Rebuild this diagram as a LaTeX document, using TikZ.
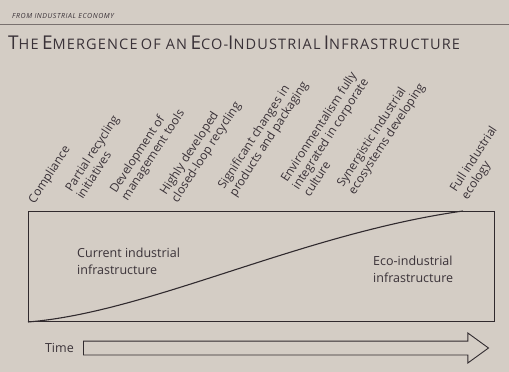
\documentclass[tikz,border=0pt]{standalone}
\usepackage{fontspec}
\setmainfont{Open Sans}
\newfontfamily\headfont[LetterSpace=8]{Open Sans}
\newfontfamily\titlefont[LetterSpace=8]{Open Sans}
\usetikzlibrary{positioning, shapes.arrows}
\definecolor{paper}{RGB}{212,205,197}
\definecolor{ink}{RGB}{48,42,46}
\definecolor{inktext}{RGB}{58,50,56}
\definecolor{rulegray}{RGB}{120,112,110}
\newcommand{\capsc}[2]{{\fontsize{19}{19}\selectfont #1}{\fontsize{14.5}{14.5}\selectfont #2}}

\begin{document}
\begin{tikzpicture}[x=1pt, y=-1pt,
        milestone/.style={rotate=57, anchor=south west, align=left, inner sep=0pt, text=inktext, font=\fontsize{12}{13.5}\selectfont},
        zone/.style={anchor=north west, align=left, inner sep=0pt, text=inktext, font=\fontsize{12.5}{17}\selectfont},
        frame/.style={draw=ink, line width=1pt}
    ]
        \path[use as bounding box, fill=paper] (0,0) rectangle (509,372);
        % header and title
        \node[anchor=base west, inner sep=0pt, text=inktext] (source) at (12,18) {\headfont\itshape\fontsize{7}{7}\selectfont FROM INDUSTRIAL ECONOMY};
        \draw[rulegray, line width=0.6pt] (0,24) -- (509,24);
        \node[anchor=base west, inner sep=0pt, text=inktext] (title) at (8,49) {\titlefont\capsc{T}{HE} \capsc{E}{MERGENCE} {\fontsize{14.5}{14.5}\selectfont OF AN} \capsc{E}{CO-}\capsc{I}{NDUSTRIAL} \capsc{I}{NFRASTRUCTURE}};

        % milestones along the top
        \node[milestone] (compliance) at (37,206) {Compliance};
        \node[milestone] (partial) at (83,200) {Partial recycling\\initiatives};
        \node[milestone] (tools) at (130,203) {Development of\\management tools};
        \node[milestone] (closedloop) at (180,205) {Highly developed\\closed-loop recycling};
        \node[milestone] (packaging) at (238,199) {Significant changes in\\products and packaging};
        \node[milestone] (culture) at (310,198) {Environmentalism fully\\integrated in corporate\\culture};
        \node[milestone] (synergy) at (357,197) {Synergistic industrial\\ecosystems developing};
        \node[milestone] (fullecology) at (470,202) {Full industrial\\ecology};

        % infrastructure box with transition curve
        \node[frame, anchor=north west, minimum width=466pt, minimum height=110pt, inner sep=0pt] (infra) at (28,211) {};
        \coordinate (ecotop) at (463,211);
        \draw[ink, line width=1.1pt] (infra.south west) .. controls (150,312) and (300,234) .. (ecotop);
        \node[zone] (current) at (77,248) {Current industrial\\infrastructure};
        \node[zone] (eco) at (373,256) {Eco-industrial\\infrastructure};

        % time arrow
        \node[single arrow, draw=ink, line width=0.9pt, anchor=west, minimum height=405pt, minimum width=29pt, inner sep=6.5pt, single arrow head extend=8pt, single arrow tip angle=72] (time) at (83,348) {};
        \node[left=9pt of time.west, inner sep=0pt, text=inktext, font=\fontsize{12.5}{15}\selectfont] (timelabel) {Time};
    \end{tikzpicture}
\end{document}
